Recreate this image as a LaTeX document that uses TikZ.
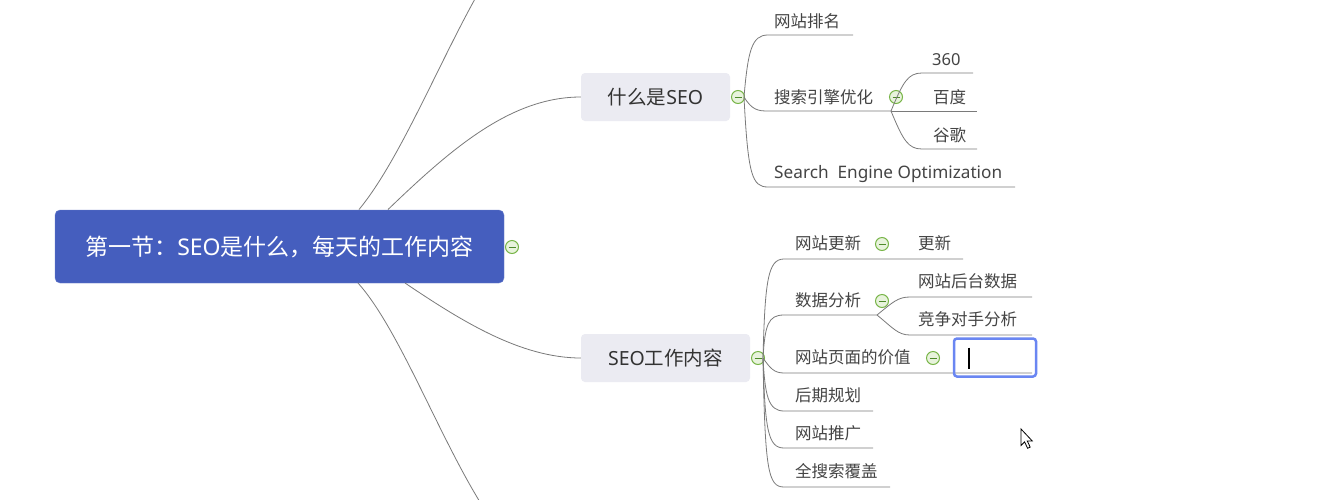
\documentclass[tikz,border=0pt]{standalone}
\usepackage{fontspec}
\setmainfont{Noto Sans CJK SC}
\newfontfamily\latf{Noto Sans}
\definecolor{rootblue}{HTML}{455EBE}
\definecolor{lvlgrey}{HTML}{EBEBF2}
\definecolor{linegrey}{HTML}{7A7A7A}
\definecolor{txtdark}{HTML}{333333}
\definecolor{txtmid}{HTML}{444444}
\definecolor{tgreen}{HTML}{78B548}
\definecolor{tgreenfill}{HTML}{E8F3DC}
\definecolor{tgreenminus}{HTML}{4E8A2A}
\definecolor{editblue}{HTML}{6A86F2}
\begin{document}
\begin{tikzpicture}[x=1pt,y=-1pt,
  conn/.style={draw=linegrey,line width=0.8pt},
  rootbox/.style={fill=rootblue,draw=rootblue!80!white,rounded corners=5pt,minimum width=449pt,minimum height=73pt,inner sep=0pt,text=white,font=\fontsize{23}{23}\selectfont,text height=20.2pt,text depth=2.8pt},
  topicbox/.style={fill=lvlgrey,rounded corners=4pt,minimum height=48pt,inner sep=0pt,text=txtdark,font=\fontsize{19.5}{19.5}\selectfont,text height=17.2pt,text depth=2.3pt},
  leaf/.style={anchor=west,inner sep=0pt,text=txtmid,font=\fontsize{16.5}{16.5}\selectfont,text height=14.5pt,text depth=2pt},
  toggle/.style={circle,draw=tgreen,fill=tgreenfill,line width=1pt,minimum size=13pt,inner sep=0pt,
    path picture={\draw[tgreenminus,line width=1pt] ([xshift=-3.5pt]path picture bounding box.center) -- ([xshift=3.5pt]path picture bounding box.center);}}
]
\useasboundingbox (0,0) rectangle (1334,499);
\clip (0,0) rectangle (1334,499);
\fill[white] (0,0) rectangle (1334,499);

% ---- root and main topics ----
\node[rootbox] (root) at (279.5,246.5) {第一节：{\latf SEO}是什么，每天的工作内容};
\node[toggle] (troot) at (512,247) {};
\node[topicbox,minimum width=149pt] (what) at (655.5,97) {什么是{\latf SEO}};
\node[topicbox,minimum width=169pt] (work) at (665.5,358) {{\latf SEO}工作内容};
\node[toggle] (twhat) at (738,97) {};
\node[toggle] (twork) at (758,358) {};

% off-screen branches
\coordinate (offtop) at (480,-10);
\coordinate (offbot) at (485,510);
\coordinate (r1) at (359,209.5);
\coordinate (r2) at (388,209.5);
\coordinate (r3) at (358,283);
\coordinate (r4) at (405,283);
\draw[conn] (r1) .. controls (400,160) and (440,60) .. (offtop);
\draw[conn] (r2) .. controls (450,150) and (510,97) .. (what.west);
\draw[conn] (r4) .. controls (460,320) and (520,358) .. (work.west);
\draw[conn] (r3) .. controls (400,330) and (440,440) .. (offbot);

% ---- children of 什么是SEO ----
\coordinate (w0) at (744,97);
\coordinate (a1) at (768,35);   \coordinate (a1e) at (853,35);
\coordinate (a2) at (768,111);  \coordinate (a2e) at (891,111);
\coordinate (a3) at (768,187);  \coordinate (a3e) at (1015,187);
\draw[conn] (w0) .. controls (748,50) and (752,35) .. (a1) -- (a1e);
\draw[conn] (w0) .. controls (752,110) and (758,111) .. (a2) -- (a2e);
\draw[conn] (w0) .. controls (748,175) and (752,187) .. (a3) -- (a3e);
\node[leaf] (rank) at (774,21.5) {网站排名};
\node[leaf] (seo) at (774,97.5) {搜索引擎优化};
\node[leaf,font=\fontsize{17.2}{17.2}\selectfont] (full) at (774,172.5) {\latf Search\ \ Engine Optimization};
\node[toggle] (tseo) at (896,97) {};

\coordinate (b1) at (922,73);  \coordinate (b1e) at (973,73);
\coordinate (b2e) at (977,111);
\coordinate (b3) at (922,149); \coordinate (b3e) at (977,149);
\draw[conn] (a2e) .. controls (903,82) and (908,73) .. (b1) -- (b1e);
\draw[conn] (a2e) -- (b2e);
\draw[conn] (a2e) .. controls (903,140) and (908,149) .. (b3) -- (b3e);
\node[leaf] (s360) at (932,59) {\latf 360};
\node[leaf] (baidu) at (933,97.5) {百度};
\node[leaf] (google) at (933,135.5) {谷歌};

% ---- children of SEO工作内容 ----
\coordinate (k0) at (763,358);
\coordinate (c1) at (784,259);  \coordinate (c1e) at (963,259);
\coordinate (c2) at (784,315);  \coordinate (c2e) at (877,315);
\coordinate (c3) at (784,373);  \coordinate (c3e) at (1032,373);
\coordinate (c4) at (784,411);  \coordinate (c4e) at (873,411);
\coordinate (c5) at (784,448);  \coordinate (c5e) at (873,448);
\coordinate (c6) at (784,487);  \coordinate (c6e) at (890,487);
\draw[conn] (k0) .. controls (765,280) and (768,259) .. (c1) -- (c1e);
\draw[conn] (k0) .. controls (765,325) and (768,315) .. (c2) -- (c2e);
\draw[conn] (k0) .. controls (770,368) and (774,373) .. (c3) -- (c3e);
\draw[conn] (k0) .. controls (765,395) and (768,411) .. (c4) -- (c4e);
\draw[conn] (k0) .. controls (765,430) and (768,448) .. (c5) -- (c5e);
\draw[conn] (k0) .. controls (765,470) and (768,487) .. (c6) -- (c6e);

\node[leaf] (upd) at (795,243.5) {网站更新};
\node[toggle] (tupd) at (882,244) {};
\node[leaf] (upd2) at (918,243.5) {更新};
\node[leaf] (data) at (795,300.5) {数据分析};
\node[toggle] (tdata) at (882,301) {};
\node[leaf] (page) at (795,357.5) {网站页面的价值};
\node[toggle] (tpage) at (933,358) {};
\node[leaf] (plan) at (795,395.5) {后期规划};
\node[leaf] (promo) at (795,433) {网站推广};
\node[leaf] (cover) at (795,471.5) {全搜索覆盖};

\coordinate (d1) at (910,297); \coordinate (d1e) at (1032,297);
\coordinate (d2) at (910,335); \coordinate (d2e) at (1032,335);
\draw[conn] (c2e) .. controls (893,302) and (898,297) .. (d1) -- (d1e);
\draw[conn] (c2e) .. controls (893,328) and (898,335) .. (d2) -- (d2e);
\node[leaf] (back) at (918,281.5) {网站后台数据};
\node[leaf] (rival) at (918,319.5) {竞争对手分析};

% ---- edit box with text cursor ----
\node[draw=editblue,line width=2.5pt,rounded corners=3pt,minimum width=82pt,minimum height=38pt,inner sep=0pt] (edit) at (995,357.5) {};
\coordinate (cur1) at (969,347.5);
\coordinate (cur2) at (969,369);
\draw[black,line width=1.1pt] (cur1) -- (cur2);

% ---- mouse pointer ----
\coordinate (mp) at (1021,429);
\draw[black,fill=white,line width=0.8pt,line join=miter]
  (mp) -- ++(0,16.5) -- ++(3.6,-3.6) -- ++(3,6.4) -- ++(2.6,-1.2) -- ++(-3,-6.2) -- ++(5,0) -- cycle;
\end{tikzpicture}
\end{document}
